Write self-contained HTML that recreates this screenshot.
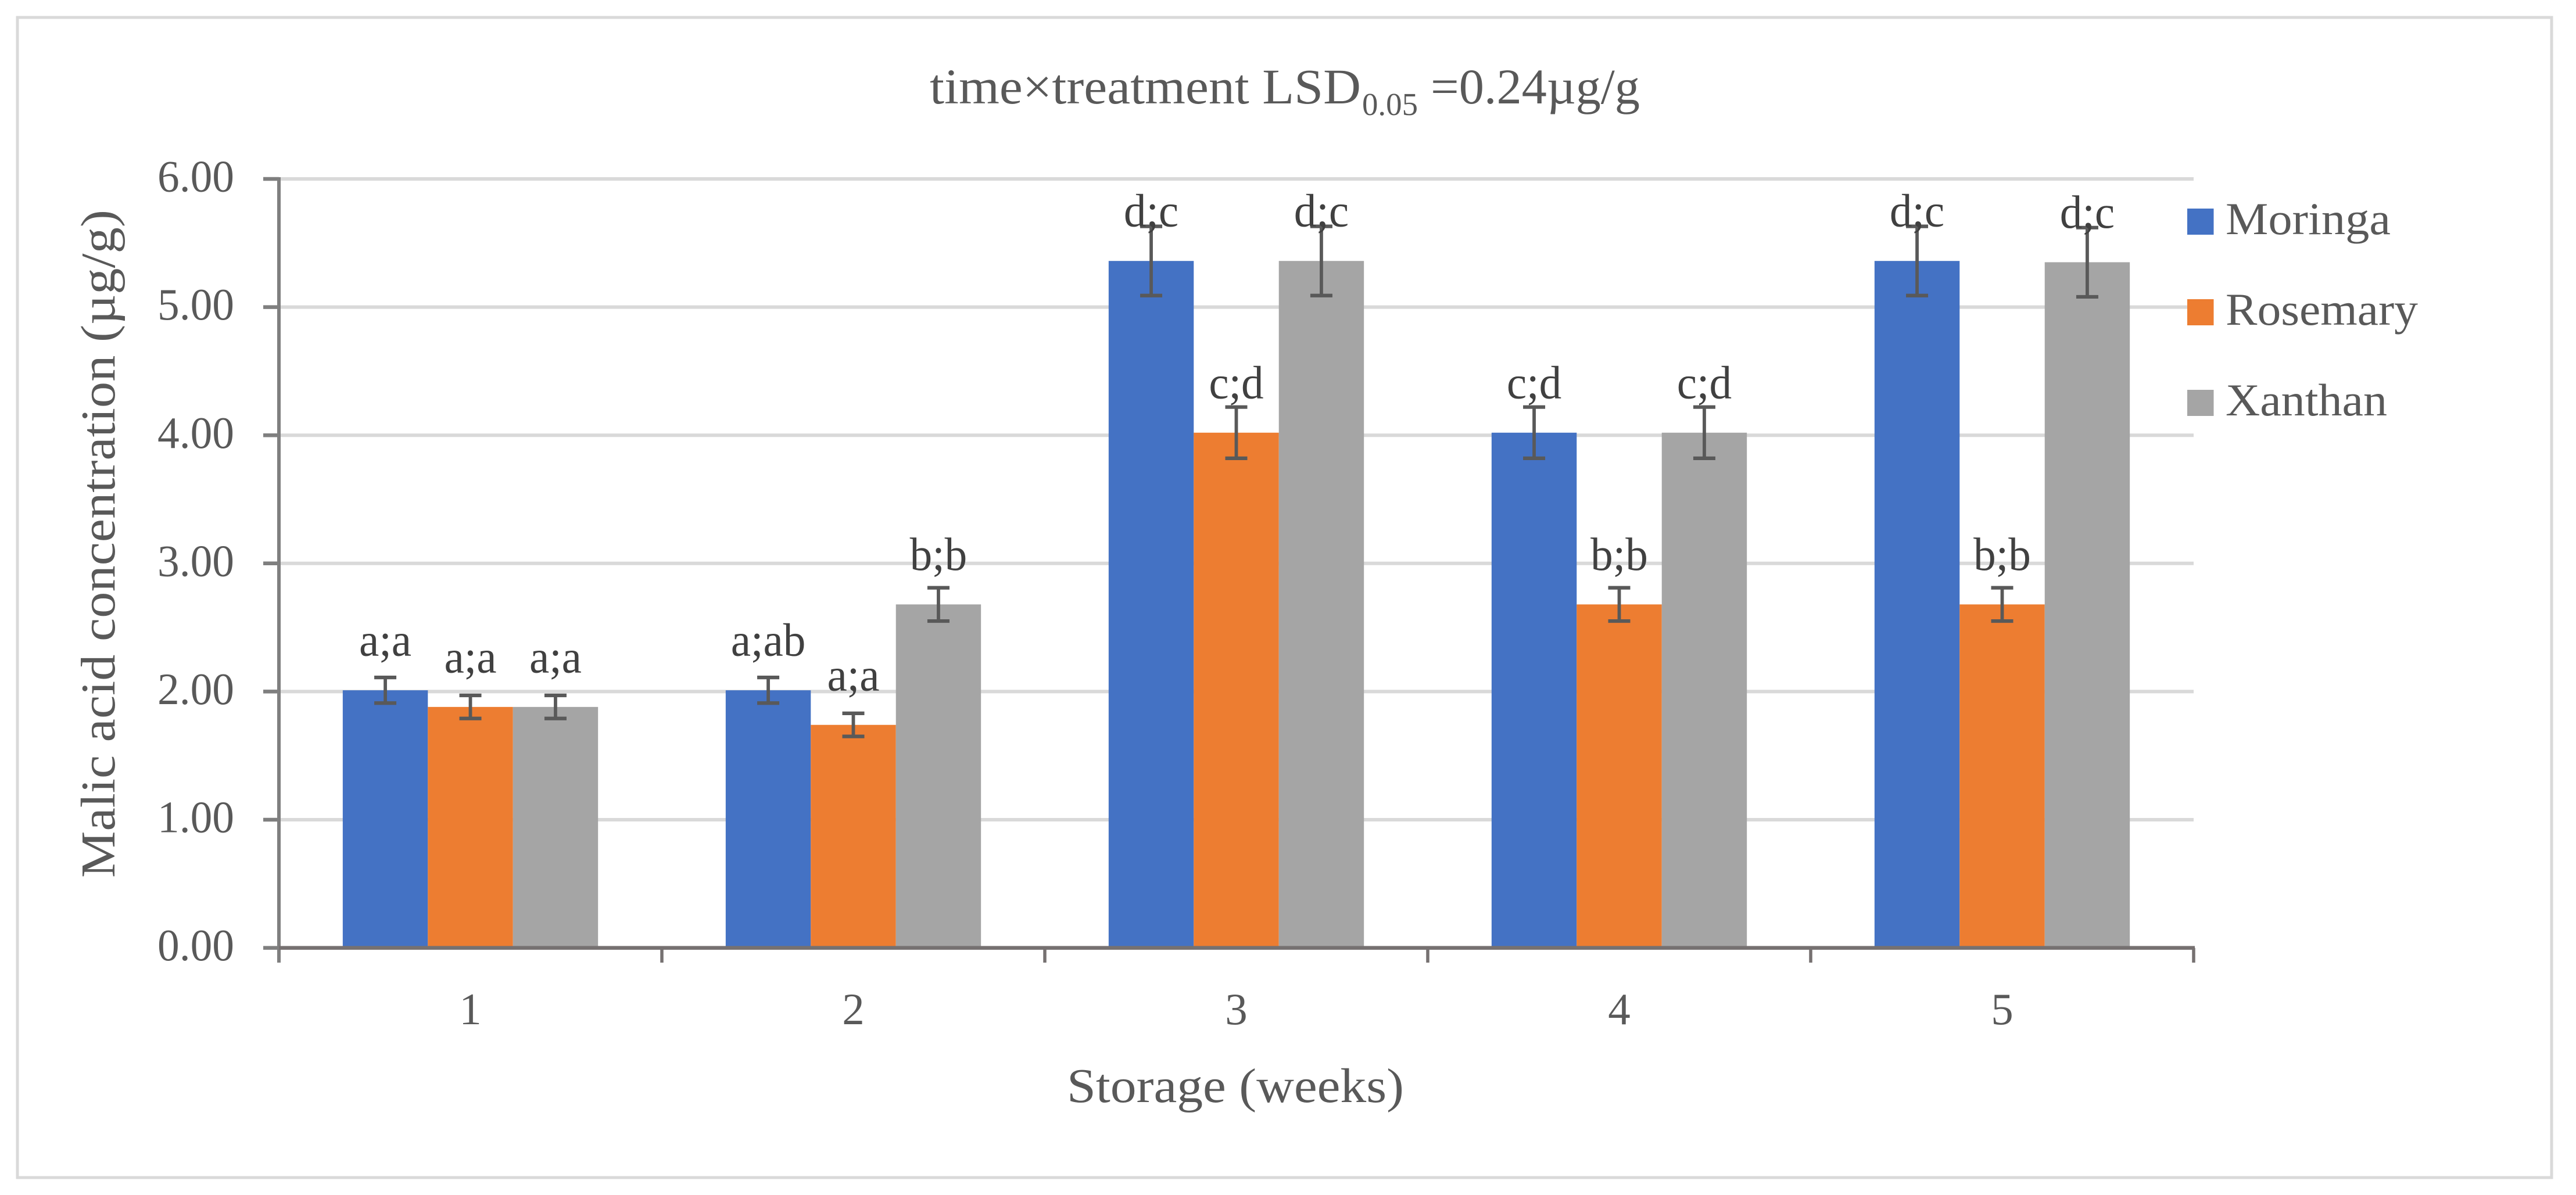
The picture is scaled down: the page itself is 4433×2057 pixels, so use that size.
<!DOCTYPE html>
<html lang="en">
<head>
<meta charset="utf-8">
<title>Malic acid concentration chart</title>
<style>
html,body{margin:0;padding:0;background:#fff;}
svg{display:block;}
text{font-family:"Liberation Serif",serif;}
</style>
</head>
<body>
<svg id="chart" xmlns="http://www.w3.org/2000/svg" width="4433" height="2057" viewBox="0 0 4433 2057">
  <rect x="0" y="0" width="4433" height="2057" fill="#ffffff"/>
  <rect x="30" y="30" width="4361" height="1997" fill="#ffffff" stroke="#d9d9d9" stroke-width="5"/>
  <g id="grid"></g>
  <g id="bars"></g>
  <g id="axes"></g>
  <g id="errors"></g>
  <g id="labels"></g>
  <g fill="#595959">
    <text x="1600" y="178" font-size="86" textLength="742" lengthAdjust="spacingAndGlyphs">time×treatment LSD</text>
    <text x="2344" y="198" font-size="55" textLength="96" lengthAdjust="spacingAndGlyphs">0.05</text>
    <text x="2462" y="178" font-size="86" textLength="360" lengthAdjust="spacingAndGlyphs">=0.24µg/g</text>
  </g>
  <text transform="translate(197,1511) rotate(-90)" x="0" y="0" font-size="84" fill="#595959" textLength="1150" lengthAdjust="spacingAndGlyphs">Malic acid concentration (µg/g)</text>
  <text x="1836" y="1897" font-size="84" fill="#595959" textLength="580" lengthAdjust="spacingAndGlyphs">Storage (weeks)</text>
  <g>
    <g>
      <rect x="3764" y="359" width="45.5" height="45" fill="#4472c4"/>
      <text x="3830" y="403" font-size="78" fill="#595959" textLength="284" lengthAdjust="spacingAndGlyphs">Moringa</text>
    </g>
    <g>
      <rect x="3764" y="515" width="45.5" height="45" fill="#ed7d31"/>
      <text x="3830" y="559" font-size="78" fill="#595959" textLength="331" lengthAdjust="spacingAndGlyphs">Rosemary</text>
    </g>
    <g>
      <rect x="3764" y="671" width="45.5" height="45" fill="#a5a5a5"/>
      <text x="3830" y="715" font-size="78" fill="#595959" textLength="278" lengthAdjust="spacingAndGlyphs">Xanthan</text>
    </g>
  </g>
</svg>
<script>
const categories = ["1", "2", "3", "4", "5"];
const yTickValues = [0, 1, 2, 3, 4, 5, 6];
const yTickLabels = ["0.00", "1.00", "2.00", "3.00", "4.00", "5.00", "6.00"];
const seriesNames = ["moringa", "rosemary", "xanthan"];
const moringaValues = [2.01, 2.01, 5.36, 4.02, 5.36];
const rosemaryValues = [1.88, 1.74, 4.02, 2.68, 2.68];
const xanthanValues = [1.88, 2.68, 5.36, 4.02, 5.35];
const moringaErrors = [0.10, 0.10, 0.27, 0.20, 0.27];
const rosemaryErrors = [0.09, 0.09, 0.20, 0.13, 0.13];
const xanthanErrors = [0.09, 0.13, 0.27, 0.20, 0.27];
const moringaLabels = ["a;a", "a;ab", "d;c", "c;d", "d;c"];
const rosemaryLabels = ["a;a", "a;a", "c;d", "b;b", "b;b"];
const xanthanLabels = ["a;a", "b;b", "d;c", "c;d", "d;c"];

const seriesValues = [moringaValues, rosemaryValues, xanthanValues];
const seriesErrors = [moringaErrors, rosemaryErrors, xanthanErrors];
const seriesLabels = [moringaLabels, rosemaryLabels, xanthanLabels];
const seriesColors = ["#4472c4", "#ed7d31", "#a5a5a5"];

const SVG_NS = "http://www.w3.org/2000/svg";
const plotLeft = 480, plotRight = 3775, baseY = 1631.6, unitY = 220.6;
const bandWidth = (plotRight - plotLeft) / categories.length;
const barWidth = bandWidth / 4.5;

function yScale(v) { return baseY - v * unitY; }
function bandLeft(i) { return plotLeft + i * bandWidth; }
function barLeft(i, s) { return bandLeft(i) + 0.75 * barWidth + s * barWidth; }

function make(tag, attrs, parent, text) {
  const el = document.createElementNS(SVG_NS, tag);
  for (const k in attrs) el.setAttribute(k, attrs[k]);
  if (text !== undefined) el.textContent = text;
  parent.appendChild(el);
  return el;
}

const gridG = document.getElementById("grid");
const barsG = document.getElementById("bars");
const axesG = document.getElementById("axes");
const errG = document.getElementById("errors");
const labG = document.getElementById("labels");

yTickValues.forEach(function (v, i) {
  if (v > 0) {
    const g = make("line", {x1: plotLeft, x2: plotRight, y1: yScale(v), y2: yScale(v), stroke: "#d9d9d9", "stroke-width": 6}, gridG);
    
    
  }
  const t = make("line", {x1: 453, x2: plotLeft, y1: yScale(v), y2: yScale(v), stroke: "#7f7f7f", "stroke-width": 6.5}, axesG);
  
  
  const l = make("text", {x: 403, y: yScale(v) + 21.6, "text-anchor": "end", "font-size": 77, fill: "#595959", textLength: 132, lengthAdjust: "spacingAndGlyphs"}, axesG, yTickLabels[i]);
  
  
});

seriesValues.forEach(function (vals, s) {
  vals.forEach(function (v, i) {
    const r = make("rect", {x: barLeft(i, s), y: yScale(v), width: barWidth, height: baseY - yScale(v), fill: seriesColors[s]}, barsG);
    
    
  });
});

const yAxis = make("line", {x1: plotLeft, x2: plotLeft, y1: yScale(6) - 3, y2: 1657, stroke: "#7f7f7f", "stroke-width": 6}, axesG);


const xAxis = make("line", {x1: plotLeft, x2: plotRight + 2, y1: baseY, y2: baseY, stroke: "#767171", "stroke-width": 6.5}, axesG);



categories.forEach(function (c, i) {
  const tick = make("line", {x1: bandLeft(i + 1), x2: bandLeft(i + 1), y1: baseY, y2: 1657, stroke: "#767171", "stroke-width": 5.5}, axesG);
  
  
  const lab = make("text", {x: bandLeft(i) + bandWidth / 2, y: 1763, "text-anchor": "middle", "font-size": 77, fill: "#595959"}, axesG, c);
  
  
});

seriesValues.forEach(function (vals, s) {
  vals.forEach(function (v, i) {
    const cx = barLeft(i, s) + barWidth / 2;
    const e = seriesErrors[s][i];
    const top = yScale(v + e), bot = yScale(v - e);
    const stem = make("line", {x1: cx, x2: cx, y1: top, y2: bot, stroke: "#595959", "stroke-width": 5.8}, errG);
    
    
    const capTop = make("line", {x1: cx - 19, x2: cx + 19, y1: top, y2: top, stroke: "#595959", "stroke-width": 6.2}, errG);
    
    
    const capBot = make("line", {x1: cx - 19, x2: cx + 19, y1: bot, y2: bot, stroke: "#595959", "stroke-width": 6.2}, errG);
    
    
    const lbl = make("text", {x: cx, y: yScale(v) - 59.5, "text-anchor": "middle", "font-size": 80, fill: "#404040", lengthAdjust: "spacingAndGlyphs"}, labG, seriesLabels[s][i]);
    lbl.setAttribute('textLength', (lbl.getComputedTextLength() * 0.965).toFixed(1));
    
    
  });
});
</script>
</body>
</html>
